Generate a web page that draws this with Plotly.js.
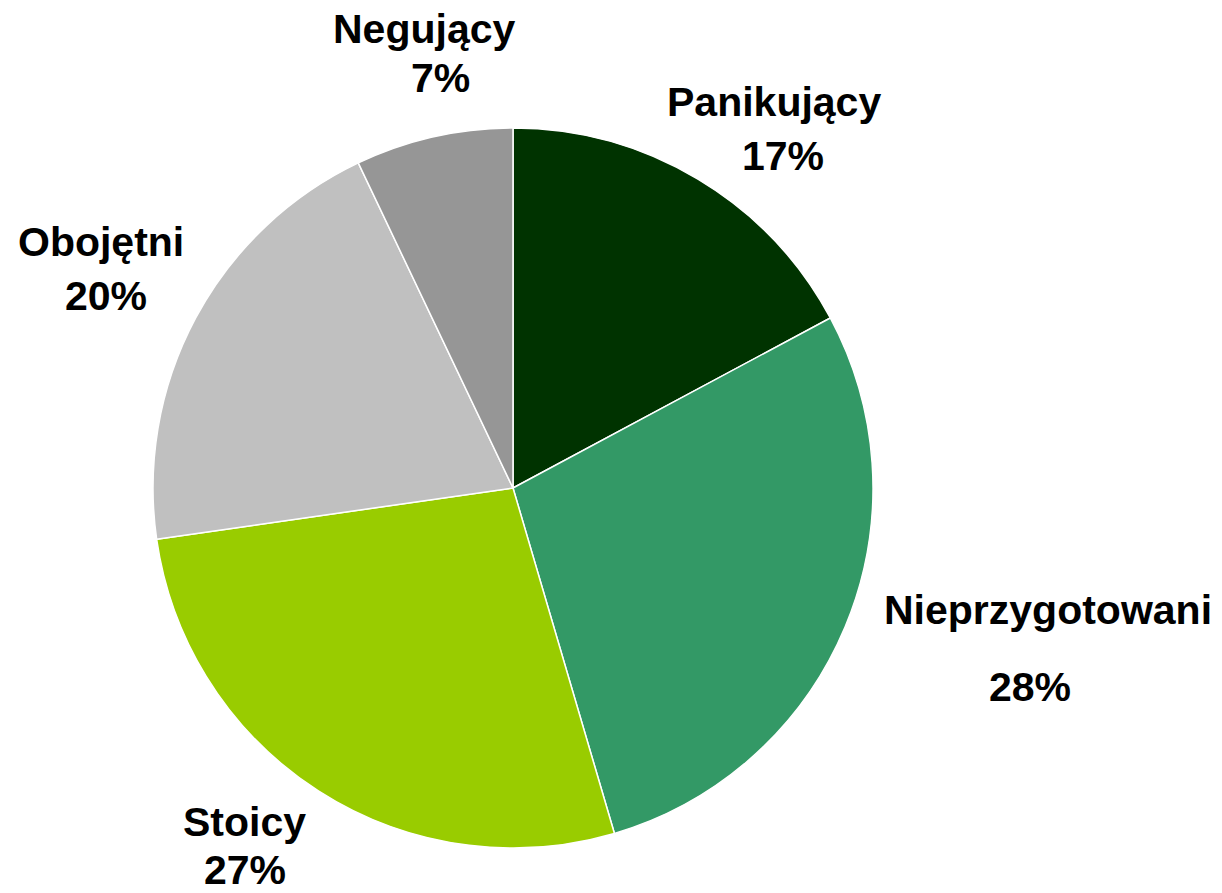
<!DOCTYPE html>
<html>
<head>
<meta charset="utf-8">
<script src="https://cdn.plot.ly/plotly-3.0.1.min.js"></script>
<style>
html,body{margin:0;padding:0;background:#fff;}
#chart{width:1222px;height:893px;}
</style>
</head>
<body>
<div id="chart"></div>
<script>
// Data
const categories = ["Panikujący", "Nieprzygotowani", "Stoicy", "Obojętni", "Negujący"];
const values = [17, 28, 27, 20, 7];
const percentLabels = ["17%", "28%", "27%", "20%", "7%"];
const colors = ["#003300", "#339966", "#99CC00", "#C0C0C0", "#969696"];

// Label placement (pixel centers of name line and percent line)
const W = 1222, H = 893;
const namePos = [[774, 102], [1048, 610], [244, 822], [101, 242], [424, 29]];
const pctPos = [[783, 156], [1030, 687], [245, 870], [106, 296], [440, 78]];

const font = {family: "Liberation Sans, Arial, sans-serif", size: 41, color: "#000"};
const annotations = [];
categories.forEach((c, i) => {
  annotations.push({text: "<b>" + c + "</b>", x: namePos[i][0] / W, y: 1 - namePos[i][1] / H,
    xref: "paper", yref: "paper", xanchor: "center", yanchor: "middle", showarrow: false, font: font});
  annotations.push({text: "<b>" + percentLabels[i] + "</b>", x: pctPos[i][0] / W, y: 1 - pctPos[i][1] / H,
    xref: "paper", yref: "paper", xanchor: "center", yanchor: "middle", showarrow: false, font: font});
});

const trace = {
  type: "pie",
  labels: categories,
  values: values,
  sort: false,
  direction: "clockwise",
  rotation: 0,
  textinfo: "none",
  hoverinfo: "label+percent",
  marker: {colors: colors, line: {color: "#ffffff", width: 1.5}},
  domain: {x: [153 / W, 873 / W], y: [1 - 848 / H, 1 - 128 / H]}
};

const layout = {
  width: W, height: H,
  margin: {l: 0, r: 0, t: 0, b: 0},
  showlegend: false,
  paper_bgcolor: "#ffffff",
  annotations: annotations
};

Plotly.newPlot("chart", [trace], layout, {displayModeBar: false, staticPlot: true});
</script>
</body>
</html>
